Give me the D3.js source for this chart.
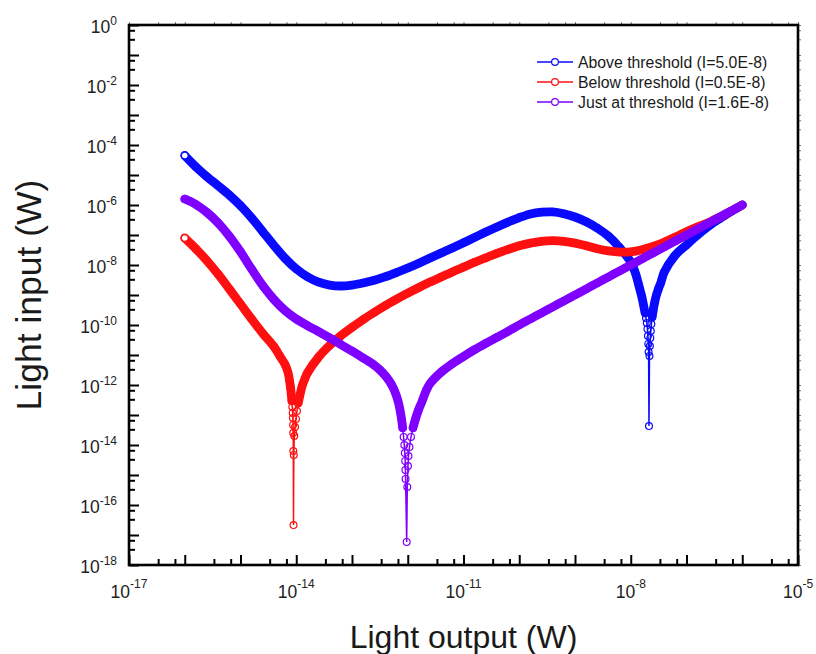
<!DOCTYPE html>
<html>
<head>
<meta charset="utf-8">
<script src="https://cdn.jsdelivr.net/npm/d3@7"></script>
<style>
  html, body { margin: 0; padding: 0; background: #fff; }
  svg { display: block; }
</style>
</head>
<body>
<svg id="chart" width="816" height="654"></svg>
<script>
// Each point is [log10 light output (W), log10 light input (W)].
// "pre" / "post" are the densely sampled stretches on either side of the
// zero crossing, "dip" holds the sparse samples that reach into the notch.

// Above threshold (I = 5.0E-8)
const abovePre = [
  [-16.0,-4.35],[-15.8,-4.73],[-15.6,-5.06],[-15.4,-5.36],[-15.2,-5.67],[-15.0,-6.02],
  [-14.8,-6.43],[-14.6,-6.89],[-14.4,-7.35],[-14.2,-7.78],[-14.0,-8.13],[-13.8,-8.39],
  [-13.6,-8.57],[-13.4,-8.67],[-13.2,-8.70],[-13.0,-8.67],[-12.8,-8.60],[-12.6,-8.51],
  [-12.4,-8.39],[-12.2,-8.25],[-12.0,-8.10],[-11.8,-7.94],[-11.6,-7.77],[-11.4,-7.60],
  [-11.2,-7.43],[-11.0,-7.26],[-10.8,-7.08],[-10.6,-6.90],[-10.4,-6.73],[-10.2,-6.57],
  [-10.0,-6.42],[-9.8,-6.30],[-9.6,-6.24],[-9.4,-6.23],[-9.2,-6.29],[-9.0,-6.40],
  [-8.8,-6.56],[-8.6,-6.77],[-8.4,-7.04],[-8.2,-7.42],[-8.0,-7.90],
  [-7.951,-8.10],[-7.906,-8.33],[-7.866,-8.60],[-7.834,-8.83],[-7.805,-9.03],
  [-7.782,-9.23],[-7.761,-9.43],[-7.743,-9.60]
];
const aboveDip = [
  [-7.727,-9.77],[-7.712,-9.93],[-7.701,-10.13],[-7.692,-10.37],[-7.685,-10.63],
  [-7.680,-10.90],[-7.673,-13.37],[-7.664,-11.03],[-7.657,-10.70],[-7.649,-10.43],
  [-7.640,-10.20],[-7.630,-9.97]
];
const abovePost = [
  [-7.615,-9.73],[-7.597,-9.50],[-7.574,-9.27],[-7.544,-9.03],[-7.504,-8.80],
  [-7.457,-8.57],[-7.4,-8.24],[-7.2,-7.67],[-7.0,-7.33],[-6.8,-7.00],[-6.6,-6.70],
  [-6.4,-6.45],[-6.2,-6.22],[-6.0,-6.00]
];

// Below threshold (I = 0.5E-8)
const belowPre = [
  [-16.0,-7.10],[-15.8,-7.46],[-15.6,-7.86],[-15.4,-8.31],[-15.2,-8.80],[-15.0,-9.30],
  [-14.8,-9.80],[-14.6,-10.28],[-14.4,-10.72],[-14.3,-11.02],[-14.2,-11.32],
  [-14.148,-11.58],[-14.121,-11.85],[-14.103,-12.08],[-14.089,-12.31],[-14.080,-12.53]
];
const belowDip = [
  [-14.071,-12.73],[-14.064,-12.93],[-14.060,-13.10],[-14.057,-13.33],[-14.055,-13.60],
  [-14.053,-14.20],[-14.049,-16.67],[-14.044,-14.33],[-14.035,-13.70],[-14.022,-13.40],
  [-14.005,-13.13],[-13.987,-12.87]
];
const belowPost = [
  [-13.963,-12.60],[-13.933,-12.33],[-13.897,-12.05],[-13.843,-11.78],
  [-13.8,-11.60],[-13.6,-11.07],[-13.4,-10.68],[-13.2,-10.36],[-13.0,-10.08],[-12.8,-9.82],
  [-12.6,-9.58],[-12.4,-9.35],[-12.2,-9.14],[-12.0,-8.94],[-11.8,-8.75],[-11.6,-8.57],
  [-11.4,-8.40],[-11.2,-8.23],[-11.0,-8.07],[-10.8,-7.91],[-10.6,-7.76],[-10.4,-7.61],
  [-10.2,-7.48],[-10.0,-7.36],[-9.8,-7.27],[-9.6,-7.21],[-9.4,-7.19],[-9.2,-7.21],
  [-9.0,-7.27],[-8.8,-7.36],[-8.6,-7.46],[-8.4,-7.53],[-8.2,-7.57],[-8.0,-7.56],
  [-7.8,-7.49],[-7.6,-7.38],[-7.4,-7.24],[-7.2,-7.07],[-7.0,-6.89],[-6.8,-6.73],
  [-6.6,-6.58],[-6.4,-6.40],[-6.2,-6.20],[-6.0,-6.00]
];

// Just at threshold (I = 1.6E-8)
const justPre = [
  [-16.0,-5.80],[-15.8,-5.98],[-15.6,-6.25],[-15.4,-6.60],[-15.2,-7.04],[-15.0,-7.56],
  [-14.8,-8.14],[-14.6,-8.69],[-14.4,-9.15],[-14.2,-9.52],[-14.0,-9.80],[-13.8,-10.02],
  [-13.6,-10.22],[-13.4,-10.43],[-13.2,-10.65],[-13.0,-10.87],[-12.8,-11.10],[-12.6,-11.34],
  [-12.498,-11.50],[-12.390,-11.72],[-12.300,-11.96],[-12.229,-12.23],[-12.175,-12.53],
  [-12.139,-12.83],[-12.112,-13.13],[-12.091,-13.43]
];
const justDip = [
  [-12.074,-13.73],[-12.062,-14.00],[-12.053,-14.27],[-12.046,-14.53],[-12.042,-14.83],
  [-12.039,-15.13],[-12.019,-17.23],[-12.008,-15.40],[-11.996,-14.70],[-11.987,-14.37],
  [-11.969,-14.07],[-11.942,-13.73]
];
const justPost = [
  [-11.906,-13.43],[-11.861,-13.13],[-11.807,-12.83],[-11.744,-12.55],[-11.673,-12.20],
  [-11.6,-11.95],[-11.4,-11.57],[-11.2,-11.29],[-11.0,-11.05],[-10.8,-10.82],[-10.6,-10.61],
  [-10.4,-10.41],[-10.2,-10.21],[-10.0,-10.00],[-9.8,-9.80],[-9.6,-9.60],[-9.4,-9.40],
  [-9.2,-9.20],[-9.0,-9.00],[-8.8,-8.80],[-8.6,-8.60],[-8.4,-8.40],[-8.2,-8.20],
  [-8.0,-8.00],[-7.8,-7.80],[-7.6,-7.60],[-7.4,-7.40],[-7.2,-7.20],[-7.0,-7.00],
  [-6.8,-6.80],[-6.6,-6.60],[-6.4,-6.40],[-6.2,-6.20],[-6.0,-6.00]
];

// Axis tick labels (powers of ten)
const xLabelExps = [-17, -14, -11, -8, -5];
const yLabelExps = [0, -2, -4, -6, -8, -10, -12, -14, -16, -18];

const seriesNames = [
  "Above threshold (I=5.0E-8)",
  "Below threshold (I=0.5E-8)",
  "Just at threshold (I=1.6E-8)"
];

// ---------------------------------------------------------------------------
const series = [
  { name: seriesNames[0], color: "#0a0aff", pre: abovePre, dip: aboveDip, post: abovePost, openStart: true },
  { name: seriesNames[1], color: "#ff1010", pre: belowPre, dip: belowDip, post: belowPost, openStart: true },
  { name: seriesNames[2], color: "#8000ff", pre: justPre,  dip: justDip,  post: justPost,  openStart: false }
];

const svg = d3.select("#chart");
const box = { left: 129, right: 798, top: 25, bottom: 565 };
const FONT = "'Liberation Sans', Arial, Helvetica, sans-serif";

const x = d3.scaleLog().domain([1e-17, 1e-5]).range([box.left, box.right]);
const y = d3.scaleLog().domain([1e-18, 1e0]).range([box.bottom, box.top]);

const asPoint = ([lo, li]) => ({ out: Math.pow(10, lo), inp: Math.pow(10, li) });

const bandLine = d3.line()
  .x(d => x(d.out)).y(d => y(d.inp))
  .curve(d3.curveCatmullRom.alpha(0.5));
const thinLine = d3.line()
  .x(d => x(d.out)).y(d => y(d.inp));

// ---- data layers ----
const dataLayer = svg.append("g");
series.forEach(s => {
  const pre = s.pre.map(asPoint);
  const dip = s.dip.map(asPoint);
  const post = s.post.map(asPoint);
  const all = pre.concat(dip, post);
  const g = dataLayer.append("g");

  // connecting line through every sample
  g.append("path").attr("d", thinLine(all))
    .attr("fill", "none").attr("stroke", s.color).attr("stroke-width", 1.5);

  // densely packed markers merge into a continuous band
  [pre, post].forEach(seg => {
    g.append("path").attr("d", bandLine(seg))
      .attr("fill", "none").attr("stroke", s.color)
      .attr("stroke-width", 8.8)
      .attr("stroke-linecap", "round").attr("stroke-linejoin", "round");
  });

  // open circle markers
  g.selectAll("circle.m").data(all).join("circle")
    .attr("class", "m")
    .attr("cx", d => x(d.out)).attr("cy", d => y(d.inp))
    .attr("r", 3.4)
    .attr("fill", "none").attr("stroke", s.color).attr("stroke-width", 1.2);

  if (s.openStart) {
    g.append("circle")
      .attr("cx", x(pre[0].out)).attr("cy", y(pre[0].inp))
      .attr("r", 3.4).attr("fill", "#fff")
      .attr("stroke", s.color).attr("stroke-width", 1.3);
  }
});

// ---- axes ----
const xMajor = d3.range(-17, -4).map(e => Math.pow(10, e));
const xMinor = d3.range(-17, -5).flatMap(e => [10 / 3, 20 / 3].map(m => m * Math.pow(10, e)));
const yMajor = d3.range(-18, 1).map(e => Math.pow(10, e));
const yMinor = d3.range(-18, 0).flatMap(e => [10 / 3, 20 / 3].map(m => m * Math.pow(10, e)));

function tickAxis(axis, transform, width) {
  const g = svg.append("g").attr("transform", transform).call(axis);
  g.select(".domain").remove();
  g.selectAll("line").attr("stroke", "#000").attr("stroke-width", width);
  g.selectAll("text").remove();
  return g;
}

// inward ticks on bottom and left axes
tickAxis(d3.axisBottom(x).tickValues(xMajor).tickSize(-10).tickFormat(""), `translate(0,${box.bottom})`, 2);
tickAxis(d3.axisBottom(x).tickValues(xMinor).tickSize(-6).tickFormat(""), `translate(0,${box.bottom})`, 2);
tickAxis(d3.axisLeft(y).tickValues(yMajor).tickSize(-10).tickFormat(""), `translate(${box.left},0)`, 2);
tickAxis(d3.axisLeft(y).tickValues(yMinor).tickSize(-6).tickFormat(""), `translate(${box.left},0)`, 2);

// faint outward ticks on the top and right edges
const faint = (g) => g.selectAll("line").attr("stroke", "#777").attr("stroke-width", 1);
faint(tickAxis(d3.axisTop(x).tickValues(xMajor.concat(xMinor)).tickSize(2).tickFormat(""), `translate(0,${box.top - 1})`, 1));
faint(tickAxis(d3.axisRight(y).tickValues(yMajor.concat(yMinor)).tickSize(2).tickFormat(""), `translate(${box.right + 1},0)`, 1));

// frame
svg.append("rect")
  .attr("x", box.left).attr("y", box.top)
  .attr("width", box.right - box.left).attr("height", box.bottom - box.top)
  .attr("fill", "none").attr("stroke", "#000").attr("stroke-width", 2.6);

// ---- tick labels ----
const xLabels = svg.append("g").attr("font-family", FONT).attr("fill", "#222");
xLabelExps.forEach(e => {
  const t = xLabels.append("text")
    .attr("x", x(Math.pow(10, e))).attr("y", 598)
    .attr("text-anchor", "middle");
  t.append("tspan").attr("font-size", 17.5).text("10");
  t.append("tspan").attr("font-size", 12).attr("dy", -10).text(String(e));
});

const yLabels = svg.append("g").attr("font-family", FONT).attr("fill", "#222");
yLabelExps.forEach(e => {
  const yy = y(Math.pow(10, e));
  const t = yLabels.append("text")
    .attr("x", 117).attr("y", yy + 8)
    .attr("text-anchor", "end");
  t.append("tspan").attr("font-size", 17.5).text("10");
  t.append("tspan").attr("font-size", 12).attr("dy", -8).text(String(e));
});

// ---- axis titles ----
svg.append("text")
  .attr("x", (box.left + box.right) / 2).attr("y", 648)
  .attr("text-anchor", "middle")
  .attr("font-family", FONT).attr("font-size", 32).attr("fill", "#1a1a1a")
  .text("Light output (W)");

svg.append("text")
  .attr("transform", `translate(41,${(box.top + box.bottom) / 2}) rotate(-90)`)
  .attr("text-anchor", "middle")
  .attr("font-family", FONT).attr("font-size", 35.5).attr("fill", "#1a1a1a")
  .text("Light input (W)");

// ---- legend ----
const legend = svg.append("g").attr("font-family", FONT);
series.forEach((s, i) => {
  const cy = 62 + i * 20;
  legend.append("line")
    .attr("x1", 537).attr("x2", 573).attr("y1", cy).attr("y2", cy)
    .attr("stroke", s.color).attr("stroke-width", 1.6);
  legend.append("circle")
    .attr("cx", 555).attr("cy", cy).attr("r", 3.4)
    .attr("fill", "#fff").attr("stroke", s.color).attr("stroke-width", 1.2);
  legend.append("text")
    .attr("x", 578).attr("y", cy + 5.5)
    .attr("font-size", 15.8).attr("fill", "#1a1a1a")
    .text(s.name);
});
</script>
</body>
</html>
